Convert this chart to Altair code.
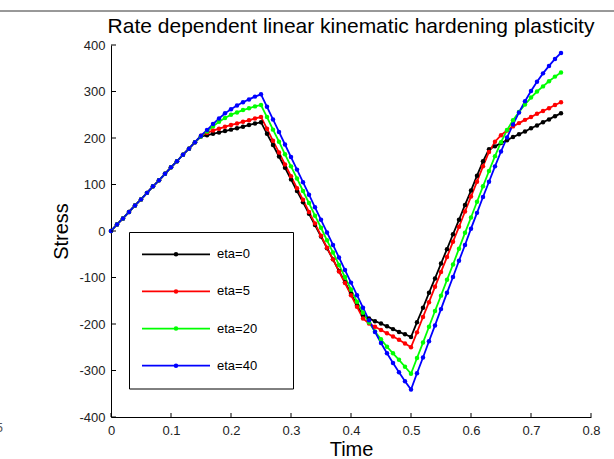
import altair as alt
import pandas as pd

# ---------------- data ----------------
time = [0.00, 0.01, 0.02, 0.03, 0.04, 0.05, 0.06, 0.07, 0.08, 0.09,
        0.10, 0.11, 0.12, 0.13, 0.14, 0.15, 0.16, 0.17, 0.18, 0.19,
        0.20, 0.21, 0.22, 0.23, 0.24, 0.25, 0.26, 0.27, 0.28, 0.29,
        0.30, 0.31, 0.32, 0.33, 0.34, 0.35, 0.36, 0.37, 0.38, 0.39,
        0.40, 0.41, 0.42, 0.43, 0.44, 0.45, 0.46, 0.47, 0.48, 0.49,
        0.50, 0.51, 0.52, 0.53, 0.54, 0.55, 0.56, 0.57, 0.58, 0.59,
        0.60, 0.61, 0.62, 0.63, 0.64, 0.65, 0.66, 0.67, 0.68, 0.69,
        0.70, 0.71, 0.72, 0.73, 0.74, 0.75]

series_names = ["eta=0", "eta=5", "eta=20", "eta=40"]
series_colors = ["#000000", "#ff0000", "#00ff00", "#0000ff"]

stress_eta0 = [0, 14, 27, 41, 55, 68, 82, 96, 109, 123, 137, 150, 164, 177, 191,
               203, 206, 209, 212, 215, 218, 221, 224, 228, 231, 234,
               209, 185, 160, 136, 111, 86, 62, 37, 13, -12, -37, -61, -86, -110, -135, -160, -182,
               -188, -194, -199, -205, -211, -217, -222, -228,
               -196, -165, -133, -102, -70, -39, -7, 24, 56, 87, 119, 150,
               176, 182, 189, 195, 202, 208, 214, 221, 227, 234, 240, 247, 253]

stress_eta5 = [0, 14, 27, 41, 55, 68, 82, 96, 109, 123, 137, 150, 164, 177, 191,
               205, 211, 216, 220, 224, 228, 231, 235, 238, 242, 245,
               220, 194, 169, 143, 118, 92, 67, 41, 16, -10, -36, -61, -87, -112, -138, -163,
               -188, -199, -206, -213, -220, -227, -234, -242, -250,
               -218, -185, -153, -120, -88, -56, -23, 9, 42, 74, 106, 139,
               170, 192, 206, 216, 225, 232, 239, 245, 252, 258, 264, 271, 277]

stress_eta20 = [0, 14, 27, 41, 55, 68, 82, 96, 109, 123, 137, 150, 164, 177, 191,
                204, 214, 225, 235, 243, 250, 255, 260, 264, 268, 271,
                245, 218, 192, 165, 139, 113, 86, 60, 33, 7, -20, -46, -73, -99, -126, -152, -176,
                -197, -216, -233, -249, -263, -277, -292, -307,
                -273, -240, -206, -172, -139, -105, -72, -38, -4, 29, 63, 96, 129,
                161, 191, 217, 238, 256, 272, 287, 300, 311, 322, 332, 341]

stress_eta40 = [0, 14, 27, 41, 55, 68, 82, 96, 109, 123, 137, 150, 164, 177, 191,
                205, 217, 230, 242, 253, 262, 270, 277, 283, 289, 294,
                267, 240, 213, 186, 159, 132, 105, 78, 51, 24, -3, -30, -57, -84, -111, -138, -165,
                -192, -217, -241, -263, -284, -304, -323, -341,
                -306, -272, -237, -203, -168, -133, -99, -64, -30, 5, 39, 73, 106,
                139, 171, 201, 229, 255, 279, 301, 321, 339, 355, 370, 383]

x_ticks = [0, 0.1, 0.2, 0.3, 0.4, 0.5, 0.6, 0.7, 0.8]
y_ticks = [-400, -300, -200, -100, 0, 100, 200, 300, 400]

chart_title = "Rate dependent linear kinematic hardening plasticity"

# ---------------- build table ----------------
rows = []
for name, vals in zip(series_names, [stress_eta0, stress_eta5, stress_eta20, stress_eta40]):
    for t, s in zip(time, vals):
        rows.append({"Time": t, "Stress": s, "series": name})
df = pd.DataFrame(rows)

W, H = 480, 372
FONT = "Liberation Sans"

xscale = alt.Scale(domain=[0, 0.8], nice=False, zero=False)
yscale = alt.Scale(domain=[-400, 400], nice=False, zero=False)
color = alt.Color("series:N", scale=alt.Scale(domain=series_names, range=series_colors), legend=None)

x_axis = alt.Axis(values=x_ticks, ticks=False, grid=False, labelPadding=7, labelFlush=False, format="~g",
                  title="Time", titleX=240, titleY=38, titleBaseline="alphabetic", titleAlign="center")
y_axis = alt.Axis(values=y_ticks, ticks=False, grid=False, labelPadding=6, labelFlush=False, title="Stress",
                  titleX=-44, titleY=186, titleAngle=270, titleBaseline="alphabetic", titleAlign="center",
                  labelExpr="replace(datum.label, '\u2212', '-')")

base = alt.Chart(df)
lines = base.mark_line(strokeWidth=1.8).encode(
    x=alt.X("Time:Q", scale=xscale, axis=x_axis),
    y=alt.Y("Stress:Q", scale=yscale, axis=y_axis),
    color=color,
)
points = base.mark_circle(size=20, opacity=1).encode(
    x=alt.X("Time:Q", scale=xscale, axis=x_axis),
    y=alt.Y("Stress:Q", scale=yscale, axis=None),
    color=color,
)

# inward tick marks (MATLAB style)
xt = alt.Chart(pd.DataFrame({"Time": x_ticks})).mark_rule(color="#000", strokeWidth=1).encode(
    x=alt.X("Time:Q", scale=xscale, axis=x_axis), y=alt.value(H), y2=alt.value(H - 4))
yt = alt.Chart(pd.DataFrame({"s": y_ticks})).mark_rule(color="#000", strokeWidth=1).encode(
    y=alt.Y("s:Q", scale=yscale, axis=None), x=alt.value(0), x2=alt.value(5))

# legend drawn inside the axes
one = pd.DataFrame({"a": [0]})
leg_box = alt.Chart(one).mark_rect(fill="white", stroke="black", strokeWidth=1).encode(
    x=alt.value(18.5), x2=alt.value(182.5), y=alt.value(187.5), y2=alt.value(344))
leg_df = pd.DataFrame({"series": series_names})
ly = alt.Y("series:N", scale=alt.Scale(type="point", domain=series_names, range=[209.3, 320.7], padding=0), axis=None)
leg_lines = alt.Chart(leg_df).mark_rule(strokeWidth=1.8).encode(
    y=ly, x=alt.value(31), x2=alt.value(99), color=color)
leg_dots = alt.Chart(leg_df).mark_circle(size=20, opacity=1).encode(
    y=ly, x=alt.value(65), color=color)
leg_text = alt.Chart(leg_df).mark_text(align="left", baseline="middle", fontSize=13, font=FONT, color="#000").encode(
    y=ly, x=alt.value(106), text="series:N")

# chart title as a text mark
title_txt = alt.Chart(pd.DataFrame({"title": [chart_title]})).mark_text(
    align="center", baseline="alphabetic", fontSize=21, font=FONT, color="#000").encode(
    x=alt.value(W / 2), y=alt.value(-12), text="title:N")

# window border line at the top, and a cut-off glyph at the left
border = alt.Chart(one).mark_rule(color="#333", strokeWidth=1).encode(
    x=alt.value(-111), x2=alt.value(503), y=alt.value(-34))
frag = alt.Chart(one).mark_text(text="5", align="right", baseline="alphabetic", fontSize=13,
                                font=FONT, color="#555").encode(x=alt.value(-108), y=alt.value(387))

chart = alt.layer(lines, points, xt, yt, leg_box, leg_lines, leg_dots, leg_text, title_txt, border, frag).resolve_scale(
    y="independent"
).properties(
    width=W, height=H,
    autosize=alt.AutoSizeParams(type="none"),
    padding={"left": 111, "top": 45, "right": 23, "bottom": 42},
).configure_view(stroke=None).configure_axis(
    domainColor="#000", domainWidth=1, labelColor="#222", labelFont=FONT, labelFontSize=13,
    titleFont=FONT, titleFontSize=20, titleFontWeight="normal", titleColor="#000"
)

chart.save("out.html", embed_options={"renderer": "svg", "actions": False})
